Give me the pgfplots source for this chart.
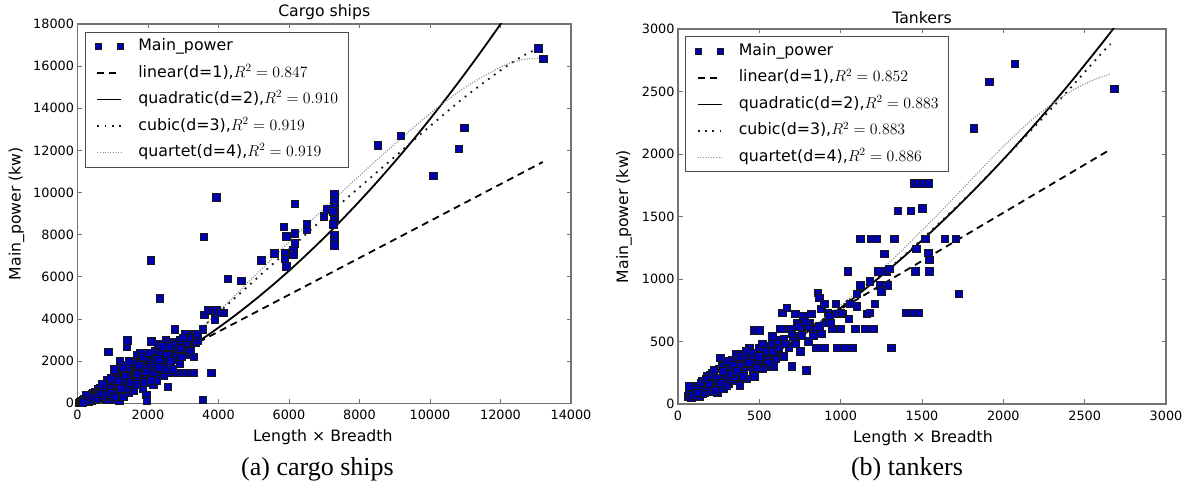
\documentclass[border=0pt]{standalone}
\usepackage{fix-cm}
\usepackage{fontspec}
\setmainfont{Liberation Serif}
\newfontfamily\dv{DejaVu Sans}
\usepackage{pgfplots}
\pgfplotsset{compat=1.18}

\definecolor{ptblue}{RGB}{0,0,172}

\pgfplotsset{
  shipax/.style={
    scale only axis, anchor=south west,
    axis line style={black!55, line width=1.1pt},
    tick align=inside, tick pos=both, major tick length=4.5pt,
    tick style={black!55, line width=0.8pt},
    scaled ticks=false,
    tick label style={font=\fontsize{12.8}{14}\selectfont\dv,
      /pgf/number format/assume math mode=true, /pgf/number format/1000 sep={}},
    xticklabel style={yshift=-3pt},
    label style={font=\fontsize{15.7}{18}\selectfont\dv},
    every axis title/.style={at={(0.5,1)}, anchor=base, font=\fontsize{15.7}{18}\selectfont\dv},
    legend cell align=left,
    legend style={at={(0.015,0.98)}, anchor=north west, draw=black!70, line width=0.9pt,
      font=\fontsize{15.8}{18}\selectfont\dv, inner xsep=10pt, inner ysep=6.5pt,
      row sep=10.5pt, column sep=15pt,
      nodes={inner sep=0pt, text height=12pt, text depth=4pt}},
    legend image code/.code={\draw[##1] (0pt,0pt) -- (24pt,0pt);},
  },
  pts/.style={only marks, mark=square*, mark size=3.8pt,
    mark options={fill=ptblue, draw=black!90, line width=0.6pt},
    legend image code/.code={\draw[##1, mark size=3pt] plot coordinates {(1pt,0pt) (23pt,0pt)};}},
  lin/.style={black, line width=1.8pt, dash pattern=on 7pt off 5pt},
  quad/.style={black, line width=1.8pt},
  cub/.style={black!90, line width=1.8pt, dash pattern=on 1.8pt off 5.5pt},
  qrt/.style={black!45, line width=1.2pt, dash pattern=on 1pt off 1.6pt},
}

\begin{document}
\begin{tikzpicture}
% ---------- (a) cargo ships ----------
\begin{axis}[shipax, at={(77.5pt,82.7pt)}, width=493.5pt, height=379.3pt,
  xmin=0, xmax=14000, ymin=0, ymax=18000,
  xtick={0,2000,...,14000}, ytick={0,2000,...,18000},
  title={Cargo ships}, title style={yshift=7pt},
  xlabel={Length × Breadth}, xlabel style={at={(axis description cs:0.497,-0.089)}, anchor=center},
  ylabel={Main\_power (kw)}, ylabel style={at={(axis description cs:-0.1236,0.5)}, anchor=center}]
\addplot[pts] coordinates {
(50,30) (80,60) (100,120) (120,80) (150,150) (180,100) (200,200) (220,140) (250,250) (260,120)
(300,300) (300,180) (320,80) (350,350) (380,220) (400,420) (400,150) (420,300) (450,500) (460,250)
(480,380) (500,200) (500,550) (550,420) (580,650) (600,300) (620,500) (650,700) (680,250) (700,600)
(720,800) (750,450) (780,350) (800,900) (800,650) (820,200) (850,750) (870,2450) (880,500) (900,1000)
(920,350) (950,800) (980,600) (1000,1100) (1000,400) (1000,200) (1050,900) (1080,1200) (1100,700) (1120,500)
(1150,1300) (1180,150) (1200,1000) (1200,2000) (1220,800) (1250,1450) (1280,600) (1300,1200) (1300,300) (1330,1600)
(1350,900) (1380,1500) (1400,2700) (1420,3000) (1420,1800) (1450,1100) (1450,500) (1480,1400) (1500,1700) (1520,800)
(1550,1300) (1580,2000) (1600,1600) (1600,600) (1650,1200) (1680,1800) (1700,2300) (1700,900) (1750,1500) (1780,2400)
(1800,1100) (1800,1900) (1850,700) (1850,1600) (1900,2100) (1900,1300) (1950,1800) (1950,400) (1970,110) (2000,1500)
(2000,2000) (2050,1200) (2080,6800) (2100,2950) (2100,1800) (2150,2300) (2150,900) (2200,1600) (2200,2500) (2250,2000)
(2250,1100) (2300,2800) (2330,4980) (2300,1400) (2350,1900) (2400,2200) (2400,1500) (2450,2600) (2450,1700) (2500,3000)
(2500,2100) (2560,790) (2550,1450) (2600,2400) (2600,1800) (2650,2900) (2650,1450) (2700,2100) (2760,3500) (2750,2600)
(2800,1450) (2800,2300) (2850,2900) (2900,3000) (2900,1900) (2950,2500) (3000,1450) (3000,2800) (3050,3300) (3050,2300)
(3100,1450) (3150,2600) (3200,3000) (3200,1450) (3250,3300) (3300,1450) (3300,2200) (3350,2900) (3400,3000) (3550,3500)
(3560,160) (3580,7900) (3600,4200) (3700,4400) (3800,1450) (3850,4400) (3900,4000) (3950,4400) (4050,4300) (4150,4300)
(1100,1500) (1250,1000) (1350,700) (1550,1000) (1650,1500) (1750,1200) (1850,2200) (2050,1700) (2150,1400) (2350,2400)
(2450,1300) (2550,2300) (2650,2000) (2850,2500) (3100,2900) (700,300) (900,700) (1150,900) (1400,1300) (1600,1900)
(1900,1000) (2200,1900) (2500,1600) (2700,2800) (2950,2200) (3300,3200) (600,500) (750,750) (850,1100) (950,1200)
(1050,1600) (1300,1700) (1450,2000) (1700,1400) (2000,2400) (2300,2100) (2600,2700) (3150,3100)
(150,50) (250,400) (350,150) (450,300) (550,250) (650,450) (700,900) (850,400) (950,500) (1050,300)
(1150,1100) (1250,700) (1350,1300) (1500,1000) (1650,900) (1750,1800) (1950,1500) (2100,1100) (2300,1700) (2400,2700)
(2700,1600) (2900,2600) (3000,3100) (3200,2500) (3400,3300)
(3930,9780) (4260,5900) (4650,5820) (5220,6800) (5580,7120) (5880,7120) (5880,6850) (5930,6510) (5850,8380) (5930,7920)
(6160,9470) (6160,8080) (6160,7600) (6130,7280) (6130,7040) (6500,8500) (6500,8230) (6990,8880) (7080,9220) (7290,9920)
(7290,9600) (7290,9300) (7290,9100) (7290,8700) (7290,8000) (7290,7700) (7290,7500) (7250,9100) (7250,8500) (8520,12230)
(9170,12690) (10090,10790) (10820,12070) (10980,13070) (13070,16850) (13210,16340)
};
\addlegendentry{Main\_power}
\addplot[lin] coordinates {(120,5) (13200,11450)};
\addlegendentry{linear(d=1),$R^2=0.847$}
\addplot[quad, smooth] coordinates {
(0,0) (500,317) (1000,672) (1500,1065) (2000,1495) (2500,1963) (3000,2468) (3500,3011) (4000,3591)
(4500,4209) (5000,4865) (5500,5558) (6000,6289) (6500,7058) (7000,7864) (7500,8708) (8000,9589)
(8500,10508) (9000,11464) (9500,12458) (10000,13490) (10500,14559) (11000,15666) (11500,16811)
(12000,17993) (12500,19213)};
\addlegendentry{quadratic(d=2),$R^2=0.910$}
\addplot[cub, smooth] coordinates {
(0,0) (1000,700) (2000,1600) (3000,2800) (4000,4300) (5000,5800) (6000,7300) (7000,8800)
(8000,10250) (9000,11700) (10000,13150) (11000,14550) (12000,15800) (12600,16450) (13200,16950)};
\addlegendentry{cubic(d=3),$R^2=0.919$}
\addplot[qrt, smooth] coordinates {
(0,0) (1000,650) (2000,1550) (3000,2750) (4000,4350) (5000,6000) (6000,7650) (7000,9250)
(8000,10800) (9000,12300) (10000,13750) (11000,15000) (12000,15950) (12600,16300) (13200,16380)};
\addlegendentry{quartet(d=4),$R^2=0.919$}
\end{axis}

% ---------- (b) tankers ----------
\begin{axis}[shipax, at={(678pt,82pt)}, width=488pt, height=375pt,
  xmin=0, xmax=3000, ymin=0, ymax=3000,
  xtick={0,500,...,3000}, ytick={0,500,...,3000},
  title={Tankers}, title style={yshift=5pt},
  xlabel={Length × Breadth}, xlabel style={at={(axis description cs:0.502,-0.0907)}, anchor=center},
  ylabel={Main\_power (kw)}, ylabel style={at={(axis description cs:-0.1107,0.5)}, anchor=center}]
\addplot[pts] coordinates {
(60,60) (70,90) (80,50) (90,120) (100,70) (110,100) (120,140) (130,60) (140,110) (150,180)
(160,90) (170,130) (180,220) (190,100) (200,160) (210,250) (220,130) (230,190) (240,90) (250,280)
(250,150) (260,370) (270,210) (280,120) (290,320) (300,230) (310,160) (320,280) (330,350) (340,190)
(350,300) (360,400) (370,240) (380,150) (390,330) (400,280) (410,400) (420,200) (430,350) (440,450)
(450,300) (460,250) (470,590) (480,380) (490,320) (500,590) (510,440) (520,350) (540,300) (550,460)
(560,400) (580,480) (590,300) (600,430) (620,510) (640,730) (650,380) (660,600) (670,770) (680,450)
(700,300) (710,540) (720,720) (730,650) (750,420) (760,600) (770,700) (790,270) (800,500) (810,650)
(830,550) (850,450) (860,890) (870,850) (880,760) (900,450) (910,650) (920,730) (950,600) (960,720)
(980,450) (1000,600) (1010,720) (1030,450) (1045,1060) (1050,680) (1070,450) (1090,600) (1100,780) (1100,880)
(1120,1320) (1150,600) (1160,720) (1180,730) (1190,1320) (1200,600) (1210,800) (1220,1320) (1230,1060) (1240,950)
(1250,900) (1270,1200) (1280,1060) (1290,950) (1300,1080) (1310,450) (1330,1320) (1350,1545) (1400,730) (1430,730)
(1430,1545) (1450,1765) (1460,1060) (1480,1765) (1460,730) (1480,730) (1500,1565) (1510,1765) (1520,1320) (1540,1765)
(1540,1210) (1545,1155) (1545,1060) (1640,1320) (1707,1320) (1725,880) (1818,2205) (1914,2576) (2071,2720) (2681,2520)
(1465,1240) (100,130) (150,80) (200,230) (230,110) (270,300) (300,150) (320,200) (350,220) (380,300)
(400,360) (420,320) (450,380) (470,220) (500,450) (520,280) (550,350) (580,420) (620,450) (650,520)
(690,600) (720,480) (760,550) (800,620) (840,600) (880,560) (930,700) (970,800) (1000,730) (1060,800)
(1120,950) (1180,980)
(70,140) (90,70) (120,90) (140,170) (170,200) (190,160) (220,270) (240,210) (260,170) (280,260)
(300,340) (320,240) (340,310) (360,260) (380,380) (400,220) (420,420) (440,330) (460,410) (480,290)
(500,380) (520,480) (540,420) (560,330) (580,540) (600,360) (630,600) (660,480) (700,560) (740,620)
(780,660) (820,720) (870,620) (900,800) (940,650)
};
\addlegendentry{Main\_power}
\addplot[lin] coordinates {(60,36) (2660,2038)};
\addlegendentry{linear(d=1),$R^2=0.852$}
\addplot[quad, smooth] coordinates {
(60,39) (200,124) (400,259) (600,412) (800,581) (1000,768) (1200,972) (1400,1192) (1600,1430)
(1800,1685) (2000,1957) (2200,2246) (2400,2552) (2600,2875) (2680,3009)};
\addlegendentry{quadratic(d=2),$R^2=0.883$}
\addplot[cub, smooth] coordinates {
(60,45) (200,125) (400,262) (600,412) (800,585) (1000,775) (1200,980) (1400,1200) (1600,1440)
(1800,1690) (2000,1955) (2200,2230) (2400,2510) (2600,2800) (2660,2880)};
\addlegendentry{cubic(d=3),$R^2=0.883$}
\addplot[qrt, smooth] coordinates {
(60,55) (200,128) (400,262) (600,416) (800,590) (1000,790) (1200,1010) (1400,1260) (1600,1520)
(1800,1790) (2000,2060) (2200,2300) (2400,2490) (2550,2590) (2660,2640)};
\addlegendentry{quartet(d=4),$R^2=0.886$}
\end{axis}

\node[font=\fontsize{26}{30}\selectfont] at (317.5pt,16.5pt) {(a) cargo ships};
\node[font=\fontsize{26}{30}\selectfont] at (907pt,16.5pt) {(b) tankers};

\pgfresetboundingbox
\useasboundingbox (0pt,0pt) rectangle (1195pt,486pt);
\end{tikzpicture}
\end{document}
